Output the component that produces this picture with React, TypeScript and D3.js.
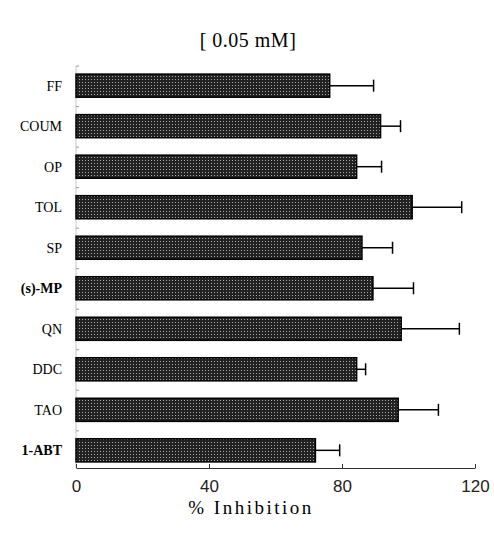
import React, { useEffect, useRef } from 'react';
import * as d3 from 'd3';

// values (% inhibition, mean and mean + error)
const categories = ['FF', 'COUM', 'OP', 'TOL', 'SP', '(s)-MP', 'QN', 'DDC', 'TAO', '1-ABT'];
const means = [76.3, 91.6, 84.4, 101.1, 86, 89.3, 97.8, 84.4, 96.9, 72];
const errTops = [89.5, 97.6, 91.9, 116, 95.2, 101.5, 115.3, 87.1, 109, 79.3];
const xTicks = [0, 40, 80, 120];

const W = 494;
const H = 534;
const SERIF = "'Liberation Serif', 'Times New Roman', serif";

function App() {
  const ref = useRef<SVGSVGElement | null>(null);

  useEffect(() => {
    const svg = d3.select(ref.current);
    svg.selectAll('*').remove();

    const x = d3.scaleLinear().domain([0, 120]).range([76, 475]);
    const y = d3.scaleBand().domain(categories).range([66, 470]).paddingInner(0.43).paddingOuter(0.2);

    // stipple fill for the bars
    const defs = svg.append('defs');
    const pat = defs.append('pattern')
      .attr('id', 'stip')
      .attr('patternUnits', 'userSpaceOnUse')
      .attr('width', 3)
      .attr('height', 3);
    pat.append('rect').attr('width', 3).attr('height', 3).attr('fill', '#222');
    pat.append('rect').attr('x', 1).attr('y', 1).attr('width', 1).attr('height', 1).attr('fill', '#a8a8a8');

    // title
    svg.append('text')
      .attr('x', 248)
      .attr('y', 47)
      .attr('text-anchor', 'middle')
      .style('font-family', SERIF)
      .style('font-size', '20px')
      .style('letter-spacing', '0.5px')
      .text('[ 0.05 mM]');

    // faint left axis
    svg.append('line')
      .attr('x1', x(0)).attr('x2', x(0))
      .attr('y1', 66).attr('y2', 468)
      .attr('stroke', '#c8c8c8')
      .attr('stroke-width', 1);

    svg.append('g')
      .selectAll('line')
      .data(categories)
      .enter()
      .append('line')
      .attr('x1', x(0)).attr('x2', x(0) + 3)
      .attr('y1', d => (y(d) as number) - 8)
      .attr('y2', d => (y(d) as number) - 8)
      .attr('stroke', '#999');

    // bars
    svg.append('g')
      .selectAll('rect')
      .data(categories)
      .enter()
      .append('rect')
      .attr('x', x(0))
      .attr('y', d => y(d) as number)
      .attr('width', (d, i) => x(means[i]) - x(0))
      .attr('height', y.bandwidth())
      .attr('fill', 'url(#stip)')
      .attr('stroke', '#000')
      .attr('stroke-width', 1.5);

    // error bars
    const eb = svg.append('g').attr('stroke', '#000').attr('stroke-width', 1.5);
    categories.forEach((c, i) => {
      const cy = (y(c) as number) + y.bandwidth() / 2;
      eb.append('line')
        .attr('x1', x(means[i])).attr('x2', x(errTops[i]))
        .attr('y1', cy).attr('y2', cy);
      eb.append('line')
        .attr('x1', x(errTops[i])).attr('x2', x(errTops[i]))
        .attr('y1', cy - 6).attr('y2', cy + 6);
    });

    // category labels
    svg.append('g')
      .selectAll('text')
      .data(categories)
      .enter()
      .append('text')
      .attr('x', 62)
      .attr('y', d => (y(d) as number) + y.bandwidth() / 2)
      .attr('dy', '0.35em')
      .attr('text-anchor', 'end')
      .style('font-family', SERIF)
      .attr('font-weight', d => (d === '1-ABT' || d === '(s)-MP' ? 'bold' : 'normal'))
      .style('font-size', '14px')
      .text(d => d);

    // bottom axis
    const xAxis = svg.append('g')
      .attr('transform', 'translate(0,468)')
      .call(d3.axisBottom(x).tickValues(xTicks).tickSize(-4).tickPadding(12).tickSizeOuter(0));
    xAxis.select('.domain').attr('stroke', '#333').attr('stroke-width', 1.2);
    xAxis.selectAll('.tick line').attr('stroke', '#333');
    xAxis.selectAll('.tick text')
      .style('font-family', "'Liberation Sans', Arial, sans-serif")
      .style('font-size', '17px')
      .attr('fill', '#222');

    // axis label
    svg.append('text')
      .attr('x', 251)
      .attr('y', 514)
      .attr('text-anchor', 'middle')
      .style('font-family', SERIF)
      .style('font-size', '19px')
      .style('letter-spacing', '2.5px')
      .text('% Inhibition');
  }, []);

  return (
    <svg
      ref={ref}
      width={W}
      height={H}
      style={{ position: 'absolute', left: 0, top: 0, display: 'block', background: '#fff' }}
    />
  );
}

export default App;
